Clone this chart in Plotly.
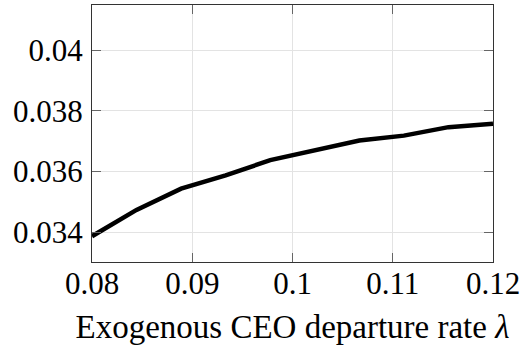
import plotly.graph_objects as go

x_vals = [0.08, 0.08444, 0.08889, 0.09333, 0.09778, 0.10222, 0.10667, 0.11111, 0.11556, 0.12]
y_vals = [0.03386, 0.03473, 0.03543, 0.03587, 0.03637, 0.03671, 0.03702, 0.03718, 0.03746, 0.03757]

x_ticks = [0.08, 0.09, 0.10, 0.11, 0.12]
x_tick_labels = ["0.08", "0.09", "0.1", "0.11", "0.12"]
y_ticks = [0.034, 0.036, 0.038, 0.040]
y_tick_labels = ["0.034", "0.036", "0.038", "0.04"]

font_family = "Liberation Serif, DejaVu Serif, serif"

fig = go.Figure()
fig.add_trace(go.Scatter(x=x_vals, y=y_vals, mode="lines",
                         line=dict(color="black", width=4.5), showlegend=False))

axis_common = dict(
    showline=True, linecolor="#333333", linewidth=1.3, mirror="allticks",
    ticks="inside", ticklen=9, tickwidth=1.3, tickcolor="#666666",
    showgrid=True, gridcolor="#e3e3e3", gridwidth=1, zeroline=False,
    tickfont=dict(family=font_family, size=31, color="black"),
)

fig.update_xaxes(range=[0.08, 0.12], tickvals=x_ticks, ticktext=x_tick_labels,
                 title=dict(text="Exogenous CEO departure rate <i>λ</i>",
                            font=dict(family=font_family, size=33, color="black"),
                            standoff=14),
                 ticklabelstandoff=-6, **axis_common)
fig.update_yaxes(range=[0.03301, 0.04149], tickvals=y_ticks, ticktext=y_tick_labels,
                 ticklabelstandoff=2, **axis_common)

fig.update_layout(
    width=526, height=351,
    margin=dict(l=92, r=33, t=5, b=89, autoexpand=False),
    paper_bgcolor="white", plot_bgcolor="white",
    font=dict(family=font_family, size=31, color="black"),
)

fig.write_html("out.html", config={"displayModeBar": False},
               post_script="document.body.style.margin='0';document.body.style.padding='0';")
